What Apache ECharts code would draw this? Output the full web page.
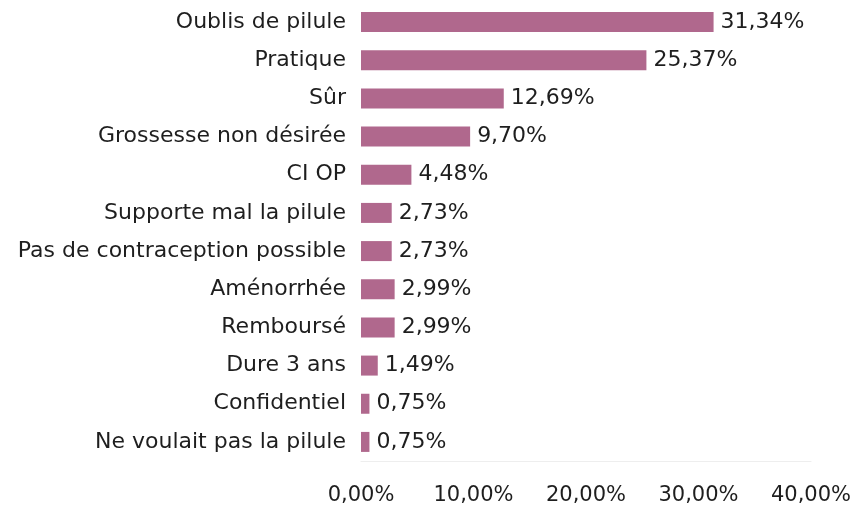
<!DOCTYPE html>
<html>
<head>
<meta charset="utf-8">
<script src="https://cdn.jsdelivr.net/npm/echarts@6/dist/echarts.min.js"></script>
<style>
  html, body { margin: 0; padding: 0; background: #fff; }
  #chart { width: 856px; height: 511px; }
</style>
</head>
<body>
<div id="chart"></div>
<script>
// raisons du choix (ordre du graphique, de haut en bas)
var categories = [
  "Oublis de pilule",
  "Pratique",
  "Sûr",
  "Grossesse non désirée",
  "CI OP",
  "Supporte mal la pilule",
  "Pas de contraception possible",
  "Aménorrhée",
  "Remboursé",
  "Dure 3 ans",
  "Confidentiel",
  "Ne voulait pas la pilule"
];
var values = [31.34, 25.37, 12.69, 9.70, 4.48, 2.73, 2.73, 2.99, 2.99, 1.49, 0.75, 0.75];
var xTicks = [0, 10, 20, 30, 40];

function pct(v) {
  return v.toFixed(2).replace('.', ',') + '%';
}

var chart = echarts.init(document.getElementById('chart'));
var font = '"DejaVu Sans", sans-serif';

chart.setOption({
  animation: false,
  grid: {
    left: 361,
    right: 45,
    top: 3,
    bottom: 50
  },
  xAxis: {
    type: 'value',
    min: xTicks[0],
    max: xTicks[xTicks.length - 1],
    interval: 10,
    splitLine: { show: false },
    axisTick: { show: false },
    axisLine: { show: true, lineStyle: { color: '#eeeeee', width: 1 } },
    axisLabel: {
      margin: 24,
      color: '#1e1e1e',
      fontSize: 21,
      fontFamily: font,
      formatter: function (v) { return pct(v); }
    }
  },
  yAxis: {
    type: 'category',
    inverse: true,
    data: categories,
    axisLine: { show: false },
    axisTick: { show: false },
    axisLabel: {
      margin: 15,
      color: '#1e1e1e',
      fontSize: 22,
      fontFamily: font
    }
  },
  series: [{
    type: 'bar',
    data: values,
    barWidth: 20,
    itemStyle: { color: '#b0688d' },
    label: {
      show: true,
      position: 'right',
      distance: 7,
      color: '#1e1e1e',
      fontSize: 22,
      fontFamily: font,
      formatter: function (p) { return pct(p.value); }
    }
  }]
});
</script>
</body>
</html>
